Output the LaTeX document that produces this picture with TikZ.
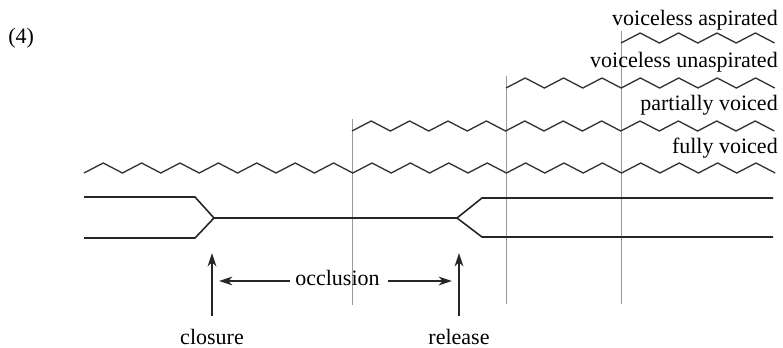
\documentclass[tikz,border=0pt]{standalone}
\usepackage{fontspec}
\setmainfont{Liberation Serif}
\usetikzlibrary{arrows.meta}
% one zigzag period is 38.4 units wide and 10 units high
\newcommand\vibration[3]{%
  \draw[wave] (#1,#2) \foreach \k in {1,...,#3}{ -- ++(19.2,-10) -- ++(19.2,10)};}
\begin{document}
\begin{tikzpicture}[x=0.75pt,y=-0.75pt,
  every node/.style={font=\fontsize{16.5pt}{19pt}\selectfont,inner sep=0pt},
  wave/.style={black!80,line width=1pt,line join=miter},
  onset/.style={black!40,line width=0.6pt},
  lips/.style={black!85,line width=1.2pt},
  pointer/.style={black!85,line width=1.3pt,-{Stealth[length=10pt,width=6.5pt,inset=3pt]}}]
	\useasboundingbox (0,0) rectangle (783,347);

	\node[anchor=base west] (num) at (8,43) {(4)};

	% voicing onsets
	\draw[onset] (352,119) -- (352,305);
	\draw[onset] (506,76) -- (506,304);
	\draw[onset] (621,31) -- (621,304);

	% voicing rows
	\vibration{621}{43}{4}
	\vibration{506}{88}{7}
	\vibration{352}{131}{11}
	\vibration{84}{173}{18}

	\node[anchor=base east] (asp) at (778,25) {voiceless aspirated};
	\node[anchor=base east] (unasp) at (778,67) {voiceless unaspirated};
	\node[anchor=base east] (partial) at (778,110) {partially voiced};
	\node[anchor=base east] (full) at (778,153) {fully voiced};

	% articulators
	\coordinate (shut) at (214,218);
	\coordinate (open) at (457,218);
	\draw[lips] (84,197) -- (195,197) -- (shut);
	\draw[lips] (84,238) -- (195,238) -- (shut);
	\draw[lips] (shut) -- (open);
	\draw[lips] (773,198) -- (482,198) -- (open) -- (482,237) -- (773,237);

	% events
	\node[anchor=base] (closure) at (212,344) {closure};
	\node[anchor=base] (release) at (459,344) {release};
	\node[anchor=base] (occl) at (337.5,285) {occlusion};
	\coordinate (closuretip) at (212,253);
	\coordinate (releasetip) at (459,253);
	\coordinate (occlleft) at (219,281);
	\coordinate (occlright) at (452,281);

	\draw[pointer] (212,316) -- (closuretip);
	\draw[pointer] (459,316) -- (releasetip);
	\draw[pointer] (occl.west |- occlleft) ++(-5,0) -- (occlleft);
	\draw[pointer] (occl.east |- occlright) ++(8,0) -- (occlright);
\end{tikzpicture}
\end{document}
